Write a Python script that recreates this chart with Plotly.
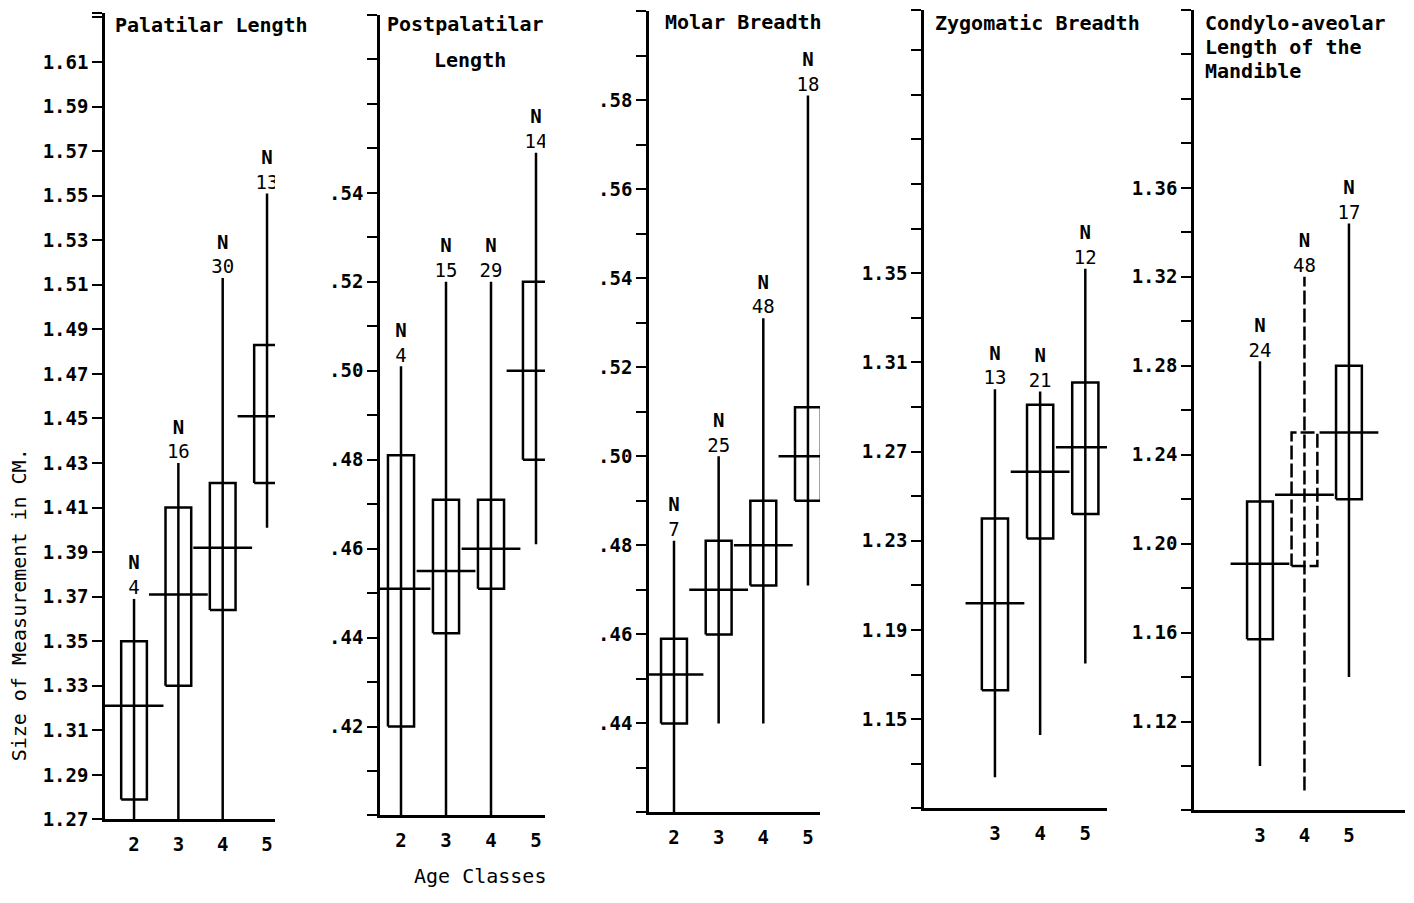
import numpy as np
import plotly.graph_objects as go

FONT = "DejaVu Sans Mono"

# ---------------- data ----------------
# Panel 1: Palatilar Length
pal_classes = [2, 3, 4, 5]
pal_n = [4, 16, 30, 13]
pal_min = [1.27, 1.27, 1.27, 1.401]
pal_max = [1.369, 1.430, 1.513, 1.551]
pal_box_lo = [1.279, 1.330, 1.364, 1.421]
pal_box_hi = [1.350, 1.410, 1.421, 1.483]
pal_mean = [1.321, 1.371, 1.392, 1.451]
pal_ticklabels = ["1.27", "1.29", "1.31", "1.33", "1.35", "1.37", "1.39", "1.41", "1.43",
                  "1.45", "1.47", "1.49", "1.51", "1.53", "1.55", "1.57", "1.59", "1.61"]

# Panel 2: Postpalatilar Length
post_classes = [2, 3, 4, 5]
post_n = [4, 15, 29, 14]
post_min = [0.40, 0.40, 0.40, 0.461]
post_max = [0.501, 0.520, 0.520, 0.549]
post_box_lo = [0.420, 0.441, 0.451, 0.480]
post_box_hi = [0.481, 0.471, 0.471, 0.520]
post_mean = [0.451, 0.455, 0.460, 0.500]
post_ticklabels = [".42", ".44", ".46", ".48", ".50", ".52", ".54"]

# Panel 3: Molar Breadth
mol_classes = [2, 3, 4, 5]
mol_n = [7, 25, 48, 18]
mol_min = [0.42, 0.440, 0.440, 0.471]
mol_max = [0.481, 0.500, 0.531, 0.581]
mol_box_lo = [0.440, 0.460, 0.471, 0.490]
mol_box_hi = [0.459, 0.481, 0.490, 0.511]
mol_mean = [0.451, 0.470, 0.480, 0.500]
mol_ticklabels = [".44", ".46", ".48", ".50", ".52", ".54", ".56", ".58"]

# Panel 4: Zygomatic Breadth
zyg_classes = [3, 4, 5]
zyg_n = [13, 21, 12]
zyg_min = [1.124, 1.143, 1.175]
zyg_max = [1.298, 1.297, 1.352]
zyg_box_lo = [1.163, 1.231, 1.242]
zyg_box_hi = [1.240, 1.291, 1.301]
zyg_mean = [1.202, 1.261, 1.272]
zyg_ticklabels = ["1.15", "1.19", "1.23", "1.27", "1.31", "1.35"]

# Panel 5: Condylo-aveolar Length of the Mandible
con_classes = [3, 4, 5]
con_n = [24, 48, 17]
con_min = [1.100, 1.089, 1.140]
con_max = [1.282, 1.320, 1.344]
con_box_lo = [1.157, 1.190, 1.220]
con_box_hi = [1.219, 1.250, 1.280]
con_mean = [1.191, 1.222, 1.250]
con_ticklabels = ["1.12", "1.16", "1.20", "1.24", "1.28", "1.32", "1.36"]

titles = [["Palatilar Length"], ["Postpalatilar", "Length"], ["Molar Breadth"],
          ["Zygomatic Breadth"], ["Condylo-aveolar", "Length of the", "Mandible"]]
y_title = "Size of Measurement in CM."
x_title = "Age Classes"

# ---------------- layout geometry (page pixels) ----------------
PAGE_W, PAGE_H = 1414, 903
OFF = 8                      # default body margin of the html page
W = PAGE_W - 2 * OFF
H = PAGE_H - 2 * OFF
KY = 1 / 0.987               # vertical calibration of the photographed page


def fx(px, dx=0):
    return min(max((px - OFF + dx) / W, 0.0), 1.0)


def fy(py):
    return 1 - min((py - OFF) * KY, H - 8) / H


panels = [
    dict(classes=pal_classes, n=pal_n, lo=pal_min, hi=pal_max, blo=pal_box_lo, bhi=pal_box_hi,
         mean=pal_mean, labels=pal_ticklabels, step=0.02,
         px=(103, 273), py=(819, 13), yr=(1.27, 1.632), xr=(1.345, 5.18)),
    dict(classes=post_classes, n=post_n, lo=post_min, hi=post_max, blo=post_box_lo, bhi=post_box_hi,
         mean=post_mean, labels=post_ticklabels, step=0.01,
         px=(378, 543), py=(815, 15), yr=(0.40, 0.58), xr=(1.533, 5.2)),
    dict(classes=mol_classes, n=mol_n, lo=mol_min, hi=mol_max, blo=mol_box_lo, bhi=mol_box_hi,
         mean=mol_mean, labels=mol_ticklabels, step=0.01,
         px=(647, 818), py=(812, 11), yr=(0.42, 0.60), xr=(1.44, 5.27)),
    dict(classes=zyg_classes, n=zyg_n, lo=zyg_min, hi=zyg_max, blo=zyg_box_lo, bhi=zyg_box_hi,
         mean=zyg_mean, labels=zyg_ticklabels, step=0.02,
         px=(922, 1105), py=(808, 10), yr=(1.11, 1.468), xr=(1.43, 5.48)),
    dict(classes=con_classes, n=con_n, lo=con_min, hi=con_max, blo=con_box_lo, bhi=con_box_hi,
         mean=con_mean, labels=con_ticklabels, step=0.02,
         px=(1192, 1403), py=(810, 10), yr=(1.08, 1.44), xr=(1.517, 6.26)),
]

BOX_HALF = 0.29
LW = 2.5

fig = go.Figure()
layout = {}
for i, p in enumerate(panels):
    k = "" if i == 0 else str(i + 1)
    xa, ya = "x" + k, "y" + k
    dashed = (i == 4)
    for j, c in enumerate(p["classes"]):
        dash = "14px,4px" if (dashed and c == 4) else "solid"
        # whisker (range)
        fig.add_trace(go.Scatter(x=[c, c], y=[p["lo"][j], p["hi"][j]], mode="lines",
                                 line=dict(color="black", width=LW, dash=dash),
                                 xaxis=xa, yaxis=ya, showlegend=False, hoverinfo="skip"))
        # box
        bx = [c - BOX_HALF, c + BOX_HALF, c + BOX_HALF, c - BOX_HALF, c - BOX_HALF]
        by = [p["blo"][j], p["blo"][j], p["bhi"][j], p["bhi"][j], p["blo"][j]]
        fig.add_trace(go.Scatter(x=bx, y=by, mode="lines",
                                 line=dict(color="black", width=LW, dash=dash),
                                 xaxis=xa, yaxis=ya, showlegend=False, hoverinfo="skip"))
    # mean lines
    fig.add_trace(go.Scatter(x=p["classes"], y=p["mean"], mode="markers",
                             marker=dict(symbol="line-ew", size=42, color="black",
                                         line=dict(color="black", width=LW)),
                             xaxis=xa, yaxis=ya, showlegend=False, hoverinfo="skip"))
    # N labels
    fig.add_trace(go.Scatter(x=p["classes"], y=p["hi"], mode="text",
                             text=[f"<b>N</b><br>{v}" for v in p["n"]],
                             textposition="top center",
                             textfont=dict(family=FONT, size=19, color="black"),
                             xaxis=xa, yaxis=ya, showlegend=False, hoverinfo="skip"))

    # axes
    y0, y1 = p["yr"]
    tv = list(np.round(np.arange(y0, y1 + 1e-9, p["step"]), 3))
    if abs(tv[-1] - y1) > 1e-6:
        tv.append(y1)
    lab = {round(float(s), 3): s for s in p["labels"]}
    tt = [lab.get(round(float(v), 3), "") for v in tv]
    layout["xaxis" + k] = dict(
        domain=[fx(p["px"][0], 2), fx(p["px"][1], 2)], range=list(p["xr"]), anchor=ya,
        showline=True, linecolor="black", linewidth=LW, showgrid=False, zeroline=False,
        ticks="", tickvals=p["classes"], ticktext=[str(c) for c in p["classes"]],
        tickfont=dict(family=FONT, size=19, color="black", weight="bold"),
        ticklabelstandoff=6, fixedrange=True)
    layout["yaxis" + k] = dict(
        domain=[fy(p["py"][0]), fy(p["py"][1])], range=[y0, y1], anchor=xa,
        showline=True, linecolor="black", linewidth=LW, showgrid=False, zeroline=False,
        ticks="outside", ticklen=10, tickwidth=2, tickcolor="black",
        tickvals=tv, ticktext=tt,
        tickfont=dict(family=FONT, size=19, color="black", weight="bold"),
        fixedrange=True)

annotations = []
title_pos = [(113, 25), (385, 24), (663, 22), (933, 23), (1203, 23)]
tfont = dict(family=FONT, size=20, color="black", weight="bold")
for (tx, ty), lines in zip(title_pos, titles):
    if len(lines) == 2:
        annotations.append(dict(x=fx(465), y=fy(ty), xref="paper", yref="paper",
                                text=lines[0], showarrow=False, xanchor="center", yanchor="middle",
                                font=tfont))
        annotations.append(dict(x=fx(470), y=fy(60), xref="paper", yref="paper",
                                text=lines[1], showarrow=False, xanchor="center", yanchor="middle",
                                font=tfont))
    else:
        for li, t in enumerate(lines):
            annotations.append(dict(x=fx(tx), y=fy(ty + 24 * li), xref="paper", yref="paper",
                                    text=t, showarrow=False, xanchor="left", yanchor="middle",
                                    font=tfont))
annotations.append(dict(x=fx(19), y=fy(605), xref="paper", yref="paper", text=y_title,
                        textangle=-90, showarrow=False, xanchor="center", yanchor="middle",
                        font=dict(family=FONT, size=20, color="black")))
annotations.append(dict(x=fx(480), y=fy(887), xref="paper", yref="paper", text=x_title,
                        showarrow=False, xanchor="center", yanchor="middle",
                        font=dict(family=FONT, size=20, color="black")))

fig.update_layout(width=W, height=H, autosize=False, margin=dict(l=0, r=0, t=0, b=0),
                  paper_bgcolor="white", plot_bgcolor="white", showlegend=False,
                  hovermode=False, annotations=annotations, **layout)
fig.write_html("out.html")
